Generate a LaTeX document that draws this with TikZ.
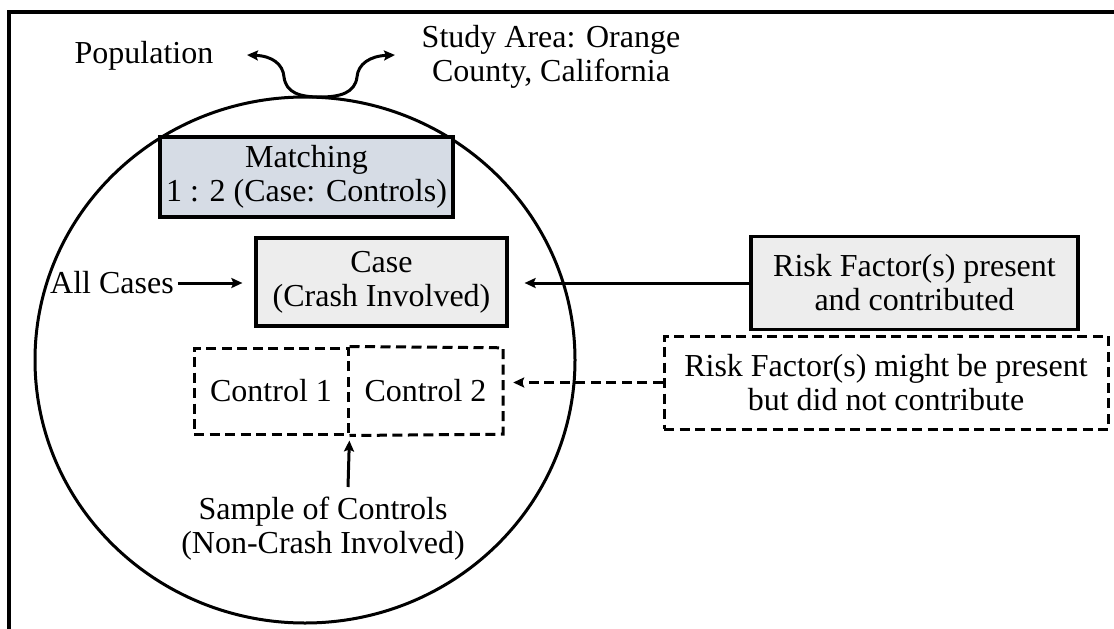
\documentclass[tikz,border=0pt]{standalone}
\usepackage{fontspec}
\setmainfont{Liberation Serif}
\usetikzlibrary{arrows.meta}
\definecolor{matchfill}{HTML}{D6DCE5}
\definecolor{casefill}{HTML}{EDEDED}
\begin{document}
\begin{tikzpicture}[x=1pt,y=-1pt,
  every node/.style={font=\fontsize{32}{34}\selectfont, inner sep=0pt},
  box/.style={draw, line width=3.2pt, align=center},
  dpat/.style={line width=3pt, dash pattern=on 10pt off 5.5pt},
  dbox/.style={draw, dpat, align=center},
  conn/.style={line width=3pt, -{Stealth[length=11pt,width=10pt,inset=2pt]}},
  curv/.style={line width=3pt, {Stealth[length=11pt,width=10pt,inset=2pt]}-{Stealth[length=11pt,width=10pt,inset=2pt]}},
  lbl/.style={align=center}
]
\useasboundingbox (0,0) rectangle (1114,629);
\fill[white] (0,0) rectangle (1114,629);
\draw[line width=3.4pt] (9,629) -- (9,12) -- (1114,12);

% population circle
\draw[line width=3pt] (305,360) ellipse [x radius=270pt, y radius=263pt];

\node[box, fill=matchfill, minimum width=293pt, minimum height=80pt] (match) at (306.5,177) {Matching\\1 : 2 (Case: Controls)};
\node[box, fill=casefill, minimum width=251pt, minimum height=88pt] (case) at (381.5,282) {Case\\(Crash Involved)};
\node[dbox, minimum width=154pt, minimum height=86pt] (c1) at (271,391) {Control 1};
\node[minimum width=155pt, minimum height=86pt] (c2) at (425.5,391) {Control 2};
\draw[dpat] (c1.north east) -- (c2.north east) -- (c2.south east) -- (c1.south east);
\node[box, fill=casefill, minimum width=327pt, minimum height=93pt] (risk) at (914.5,283) {Risk Factor(s) present\\and contributed};
\node[dbox, minimum width=444pt, minimum height=93pt] (riskd) at (886,382.5) {Risk Factor(s) might be present\\but did not contribute};

\node[lbl] (popl) at (144,55.5) {Population};
\node[lbl] (study) at (551,57) {Study Area: Orange\\County, California};
\node[lbl] (all) at (112,283) {All Cases};
\node[lbl] (sample) at (323,529) {Sample of Controls\\(Non-Crash Involved)};

\coordinate (tl) at (247,55);
\coordinate (tr) at (395,55);
\coordinate (ctop) at (320,97);
\draw[curv] (tl) .. controls (272,56) and (283,64) .. (284,77) .. controls (286,93) and (300,97) .. (ctop) .. controls (340,97) and (355,93) .. (357,77) .. controls (358,64) and (370,56) .. (tr);

\draw[conn, shorten <=4pt, shorten >=12pt] (all.east) -- (all.east -| case.west);
\draw[conn, shorten >=16pt] (risk.west) -- (risk.west -| case.east);
\draw[conn, dash pattern=on 10pt off 5.5pt, shorten >=10pt] (riskd.west) -- (riskd.west -| c2.east);
\coordinate (st) at (348,487);
\draw[conn, shorten >=5pt] (st) -- (c1.south east);
\end{tikzpicture}
\end{document}
